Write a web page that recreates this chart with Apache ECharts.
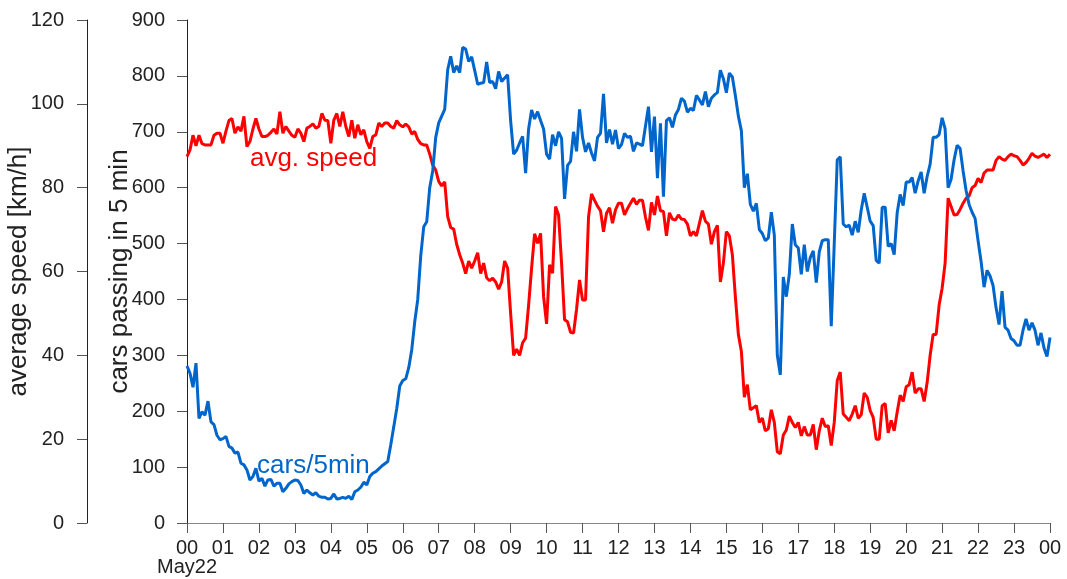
<!DOCTYPE html>
<html>
<head>
<meta charset="utf-8">
<script src="https://cdn.jsdelivr.net/npm/echarts@6/dist/echarts.min.js"></script>
<style>
html,body{margin:0;padding:0;background:#fff;}
#chart{width:1067px;height:579px;}
</style>
</head>
<body>
<div id="chart"></div>
<script>
// 5-minute samples from 00:00 to 24:00 (289 samples)
const speedKmh = [
87.4,89,92.5,90,92.5,90.5,90.2,90.2,90.2,92.5,93,93,90.6,93.5,96,96.5,93,94.5,93.5,97,89.8,91,94,96.5,94,92.2,92.2,92.5,93.2,94,92.8,98.1,93,94.6,93.5,92.5,92,
94,93,91,94.2,94.6,95.2,94.2,94.6,97.7,96.1,96,90.6,96.1,97.7,94.6,98.1,94.6,92.2,96.1,91.8,95,92.6,93.8,91,89.4,92.2,92.6,95.4,94.6,95.4,95.4,94.6,94.2,96,95,94.5,
95.2,94.5,92.8,93.4,91.5,90.5,90.2,90.2,88,85.4,84.2,81.5,80.4,81.4,73.1,70.5,70.1,66.5,64,62,59.5,62.5,60.8,62.5,64.5,59.5,62,58.5,57.8,58.4,57.5,55.8,57.5,62.5,60.8,50,
40,41.5,40,43,44.1,52,60.8,69,66.7,69.1,54,47.5,61.6,59.6,75.5,73.5,62,48.5,48,45.5,45.3,51,58,53.2,53.2,73,78.5,77,75.6,74.5,69.5,73.9,75.2,71.5,74.7,76.3,
76.3,73.5,75,76.3,77.5,76,77,77,73,69.8,76.5,73.5,78,74.5,74.3,68.5,74,72.5,72.3,73.5,72.5,72.4,71.3,68.5,69.5,68.5,71.5,74.5,72,71.3,66.5,69.5,71,57.5,62,69.5,
68.5,64,54,45,41,30,33,27,27.5,28,24,25,22,22.5,27,24,17,16.5,21,22.2,25.5,24,22.8,24,20.8,23,21,21,23.5,17.5,22,25,23,23.2,18.5,24,
34,36,26,25.2,24.4,26,28,25,25.8,31,30,26.8,25.2,20,20,28,28.5,21.5,24.5,22,26.5,30.5,29,32.5,33,36,31,32,32,29,33.5,40,45,45,52,56,
62,77.5,75.5,73.5,73.6,74.8,76.3,77.5,78,80,80.5,82.2,81.2,83.5,84.2,84.2,84.2,86.5,87.4,86.8,86.5,87.4,88,87.6,87.4,86.5,85.4,86,87,88.2,87.5,87.2,87.6,88,87.2,88
];
const carsPer5min = [
281,268,243,286,187,199,193,218,181,176,157,149,151,155,137,134,125,127,107,104,95,77,83,98,75,80,66,77,78,66,71,71,56,62,70,74,77,
76,68,53,59,54,50,54,48,46,46,43,44,52,43,44,46,44,48,42,56,59,64,73,68,83,89,92,97,102,106,110,140,172,205,245,255,
258,278,310,360,400,478,530,539,600,630,690,716,728,740,811,835,806,818,806,851,848,826,834,810,785,787,788,825,788,790,777,808,790,796,802,720,
660,667,680,692,626,705,739,723,736,720,705,660,651,695,675,700,688,580,640,647,700,665,740,690,664,680,662,648,690,697,768,680,704,678,703,670,
677,697,690,692,665,680,678,675,710,745,664,727,617,715,584,720,725,708,730,740,760,755,735,742,738,765,757,748,772,745,760,766,770,810,795,770,
805,798,765,728,702,600,625,570,558,572,525,518,505,510,556,515,300,265,440,405,445,535,498,492,445,498,450,475,487,430,485,505,507,507,352,500,
650,655,535,530,533,515,540,520,560,590,565,540,532,470,465,565,565,495,500,480,555,588,568,610,610,618,590,612,628,590,620,642,690,690,695,725,
705,600,615,650,676,670,630,595,570,556,545,505,468,422,452,442,425,385,355,415,350,345,330,326,318,318,345,365,345,358,345,318,340,313,298,332
];
const hourLabels = ['00','01','02','03','04','05','06','07','08','09','10','11','12','13','14','15','16','17','18','19','20','21','22','23','00'];
const dateLabel = 'May22';
const speedTicks = [0,20,40,60,80,100,120];
const carTicks = [0,100,200,300,400,500,600,700,800,900];
const seriesNames = ['avg. speed','cars/5min'];

const SAMPLES_PER_HOUR = 12;
const speedData = speedKmh.map((v,i)=>[i/SAMPLES_PER_HOUR, v]);
const carData = carsPer5min.map((v,i)=>[i/SAMPLES_PER_HOUR, v]);

const FONT = '"Liberation Sans", Arial, sans-serif';
const RED = '#ff0000';
const BLUE = '#0066cc';

const chart = echarts.init(document.getElementById('chart'), null, {renderer:'canvas'});
const option = {
  animation:false,
  backgroundColor:'#ffffff',
  grid:{left:187, right:17, top:20, bottom:56, containLabel:false, outerBoundsMode:'none'},
  xAxis:{
    type:'value', min:0, max:24, interval:1,
    axisLine:{show:true, onZero:false, lineStyle:{color:'#888', width:1}},
    axisTick:{show:true, inside:false, length:10, lineStyle:{color:'#555'}},
    splitLine:{show:false},
    axisLabel:{
      color:'#222', fontSize:20, fontFamily:FONT, margin:15,
      showMinLabel:true, showMaxLabel:true, hideOverlap:false,
      formatter:(v)=> hourLabels[v]
    }
  },
  yAxis:[
    {
      type:'value', min:speedTicks[0], max:speedTicks[speedTicks.length-1], interval:20,
      position:'left', offset:100,
      name:'average speed [km/h]', nameLocation:'middle', nameGap:55, nameRotate:90, nameMoveOverlap:false,
      nameTextStyle:{color:'#222', fontSize:26, fontFamily:FONT},
      axisLine:{show:true, onZero:false, lineStyle:{color:'#222', width:1}},
      axisTick:{show:true, inside:false, length:10, lineStyle:{color:'#555'}},
      splitLine:{show:false},
      axisLabel:{color:'#222', fontSize:20, fontFamily:FONT, margin:23, showMinLabel:true, showMaxLabel:true}
    },
    {
      type:'value', min:carTicks[0], max:carTicks[carTicks.length-1], interval:100,
      position:'left', offset:0,
      name:'cars passing in 5 min', nameLocation:'middle', nameGap:54, nameRotate:90, nameMoveOverlap:false,
      nameTextStyle:{color:'#222', fontSize:26, fontFamily:FONT},
      axisLine:{show:true, onZero:false, lineStyle:{color:'#222', width:1}},
      axisTick:{show:true, inside:false, length:10, lineStyle:{color:'#555'}},
      splitLine:{show:false},
      axisLabel:{color:'#222', fontSize:20, fontFamily:FONT, margin:22, showMinLabel:true, showMaxLabel:true}
    }
  ],
  series:[
    {name:seriesNames[0], type:'line', yAxisIndex:0, data:speedData, showSymbol:false, symbol:'none',
     lineStyle:{color:RED, width:3}, itemStyle:{color:RED}},
    {name:seriesNames[1], type:'line', yAxisIndex:1, data:carData, showSymbol:false, symbol:'none',
     lineStyle:{color:BLUE, width:3}, itemStyle:{color:BLUE}}
  ]
};
chart.setOption(option);

// annotations anchored in data coordinates
const pSpeed = chart.convertToPixel({xAxisIndex:0, yAxisIndex:0}, [1.75, 86.8]);
const pCars = chart.convertToPixel({xAxisIndex:0, yAxisIndex:1}, [1.95, 102]);
const pOrigin = chart.convertToPixel({xAxisIndex:0, yAxisIndex:1}, [0, 0]);
chart.setOption({
  graphic:[
    {type:'text', x:pSpeed[0], y:pSpeed[1], style:{text:seriesNames[0], fill:RED, font:'26px '+FONT, textAlign:'left', textVerticalAlign:'middle'}},
    {type:'text', x:pCars[0], y:pCars[1], style:{text:seriesNames[1], fill:BLUE, font:'26px '+FONT, textAlign:'left', textVerticalAlign:'middle'}},
    {type:'text', x:pOrigin[0], y:pOrigin[1] + 44, style:{text:dateLabel, fill:'#222', font:'20px '+FONT, textAlign:'center', textVerticalAlign:'middle'}}
  ]
});
</script>
</body>
</html>
